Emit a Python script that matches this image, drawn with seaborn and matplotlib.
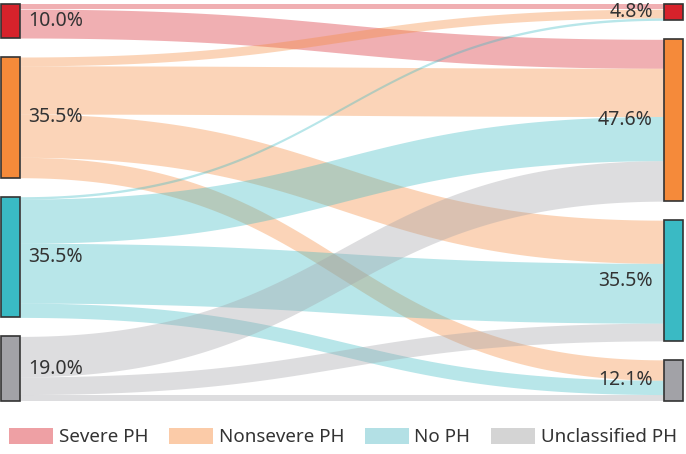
import numpy as np
import matplotlib
matplotlib.use("Agg")
import matplotlib.pyplot as plt
from matplotlib.patches import Rectangle, Patch
import seaborn as sns

# kategoriler ve düğüm yüzdeleri
categories = ["Severe PH", "Nonsevere PH", "No PH", "Unclassified PH"]
left_pct = [10.0, 35.5, 35.5, 19.0]
right_pct = [4.8, 47.6, 35.5, 12.1]

# akışlar: satır = sol düğüm, sütun = sağ düğüm (yüzde)
flow_severe = [1.5, 8.5, 0.0, 0.0]
flow_nonsevere = [2.6, 14.2, 12.7, 6.0]
flow_noph = [0.7, 13.0, 17.6, 4.2]
flow_unclass = [0.0, 11.9, 5.2, 1.9]

node_colors = ["#d7222b", "#f58a3a", "#3abac4", "#a2a2a7"]
legend_colors = ["#eea0a4", "#fbcba8", "#b3e0e5", "#d4d4d4"]

sns.set_theme(style="white")
plt.rcParams["font.family"] = ["Noto Sans", "DejaVu Sans"]

W, H = 686, 454
fig = plt.figure(figsize=(W / 100, H / 100), dpi=100)
ax = fig.add_axes([0, 0, 1, 1])
ax.set_xlim(0, W)
ax.set_ylim(H, 0)
ax.axis("off")

scale = 3.4   # piksel / yüzde
gap = 19
top = 4
xl0, xl1 = 1, 20
xr0, xr1 = 664, 683


def node_tops(vals):
    ys = []
    y = top
    for v in vals:
        ys.append(y)
        y += v * scale + gap
    return ys


ltops = node_tops(left_pct)
rtops = node_tops(right_pct)
flows = np.array([flow_severe, flow_nonsevere, flow_noph, flow_unclass])

# bağlantılar
t = np.linspace(0, 1, 200)
xm = (xl1 + xr0) / 2
bx = (1 - t) ** 3 * xl1 + 3 * (1 - t) ** 2 * t * xm + 3 * (1 - t) * t ** 2 * xm + t ** 3 * xr0


def bez(y0, y1):
    return (1 - t) ** 3 * y0 + 3 * (1 - t) ** 2 * t * y0 + 3 * (1 - t) * t ** 2 * y1 + t ** 3 * y1


src_off = list(ltops)
tgt_off = list(rtops)
for i in range(4):
    for j in range(4):
        v = flows[i, j]
        if v <= 0:
            continue
        h = v * scale
        y0 = src_off[i]
        y1 = tgt_off[j]
        src_off[i] += h
        tgt_off[j] += h
        ax.fill_between(bx, bez(y0, y1), bez(y0 + h, y1 + h),
                        color=node_colors[i], alpha=0.36, lw=0, zorder=1)

# düğümler ve etiketler
for i in range(4):
    hl = left_pct[i] * scale
    ax.add_patch(Rectangle((xl0, ltops[i]), xl1 - xl0, hl, fc=node_colors[i],
                           ec="#333333", lw=1.2, zorder=3))
    ax.text(28, ltops[i] + hl / 2, f"{left_pct[i]:.1f}%", ha="left", va="center",
            fontsize=14, color="#333333", zorder=4)
    hr = right_pct[i] * scale
    ax.add_patch(Rectangle((xr0, rtops[i]), xr1 - xr0, hr, fc=node_colors[i],
                           ec="#333333", lw=1.2, zorder=3))
    ax.text(653, rtops[i] + hr / 2, f"{right_pct[i]:.1f}%", ha="right", va="center",
            fontsize=14, color="#333333", zorder=4)

handles = [Patch(fc=c, ec="none") for c in legend_colors]
fig.legend(handles, categories, loc="center", bbox_to_anchor=(0.5, 0.037), ncol=4,
           frameon=False, fontsize=13.5, handlelength=2.35, handleheight=0.9,
           handletextpad=0.3, columnspacing=1.1, borderaxespad=0,
           labelcolor="#333333")

fig.savefig("out.png", dpi=100)
